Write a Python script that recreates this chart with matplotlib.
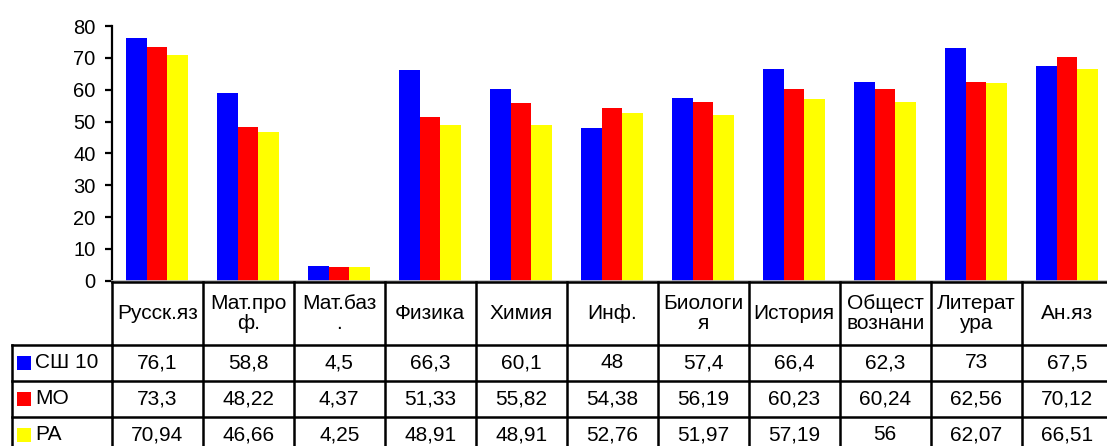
import matplotlib
matplotlib.use("Agg")
import matplotlib.pyplot as plt
from matplotlib.patches import Rectangle
from matplotlib.lines import Line2D
from matplotlib.transforms import Affine2D, blended_transform_factory

plt.rcParams['font.family'] = ['Liberation Sans', 'DejaVu Sans']

# ---- data ----
categories = ["Русск.яз", "Мат.про\nф.", "Мат.баз\n.", "Физика", "Химия", "Инф.",
              "Биологи\nя", "История", "Общест\nвознани", "Литерат\nура", "Ан.яз"]
series_names = ["СШ 10", "МО", "РА"]
sh10 = [76.1, 58.8, 4.5, 66.3, 60.1, 48, 57.4, 66.4, 62.3, 73, 67.5]
mo = [73.3, 48.22, 4.37, 51.33, 55.82, 54.38, 56.19, 60.23, 60.24, 62.56, 70.12]
ra = [70.94, 46.66, 4.25, 48.91, 48.91, 52.76, 51.97, 57.19, 56, 62.07, 66.51]
colors = ["#0000FF", "#FF0000", "#FFFF00"]
yticks = [0, 10, 20, 30, 40, 50, 60, 70, 80]

W, H = 1107, 446
fig = plt.figure(figsize=(W / 100, H / 100), dpi=100)

# axes geometry in pixels
x0_px, col_w = 111.7, 91.0
n = len(categories)
y0_px, y80_px = 280.7, 26.0
ax = fig.add_axes([x0_px / W, 1 - y0_px / H, n * col_w / W, (y0_px - y80_px) / H])

bw = 0.225
for k, (vals, c) in enumerate(zip([sh10, mo, ra], colors)):
    xs = [i + (k - 1) * bw for i in range(n)]
    ax.bar(xs, vals, width=bw, color=c, edgecolor='none', zorder=2)

ax.set_xlim(-0.5, n - 0.5)
ax.set_ylim(0, 80)
ax.set_yticks(yticks)
ax.set_yticklabels([str(t) for t in yticks], fontsize=14.5)
ax.set_xticks([])
for s in ['top', 'right']:
    ax.spines[s].set_visible(False)
ax.spines['left'].set_linewidth(1.6)
ax.spines['left'].set_color('black')
ax.spines['bottom'].set_color('#bdbdbd')
ax.spines['bottom'].set_linewidth(1.2)
ax.tick_params(axis='y', direction='out', length=5, width=1.6, pad=6.5, colors='black')

# ---- data table ----
pix = Affine2D().scale(1 / W, -1 / H).translate(0, 1) + fig.transFigure
bt = blended_transform_factory(ax.transData, pix)

lw = 1.8
fs = 15
top_px, head_bot = 281.8, 345.0
row_edges = [345.0, 381.0, 416.7, 452.4]
left_px = 12.0
xr = n - 0.5 + 0.3

def hline(xa, xb, y, trans):
    fig.add_artist(Line2D([xa, xb], [y, y], transform=trans, color='black', lw=lw,
                          clip_on=False, solid_capstyle='projecting'))

def vline(x, ya, yb, trans):
    fig.add_artist(Line2D([x, x], [ya, yb], transform=trans, color='black', lw=lw,
                          clip_on=False, solid_capstyle='projecting'))

# horizontal lines
hline(-0.5, xr, top_px, bt)
for y in row_edges:
    hline(-0.5, xr, y, bt)
for y in row_edges:
    hline(left_px, x0_px, y, pix)
# vertical lines
for i in range(n + 1):
    vline(i - 0.5, top_px, row_edges[-1], bt)
vline(left_px, row_edges[0], row_edges[-1], pix)

# header texts
for i, lab in enumerate(categories):
    fig.text(i, (top_px + head_bot) / 2, lab, transform=bt, ha='center', va='center',
             fontsize=fs, linespacing=1.1)

# rows
def fmt(v):
    return f"{v:g}".replace('.', ',')

for r, (name, vals, c) in enumerate(zip(series_names, [sh10, mo, ra], colors)):
    yc = (row_edges[r] + row_edges[r + 1]) / 2
    fig.add_artist(Rectangle((17, yc + 7), 14, -14, transform=pix, facecolor=c,
                             edgecolor='none', clip_on=False))
    fig.text(35, yc, name, transform=pix, ha='left', va='center', fontsize=fs)
    for i, v in enumerate(vals):
        fig.text(i, yc, fmt(v), transform=bt, ha='center', va='center', fontsize=fs)

fig.savefig("out.png", dpi=100)
